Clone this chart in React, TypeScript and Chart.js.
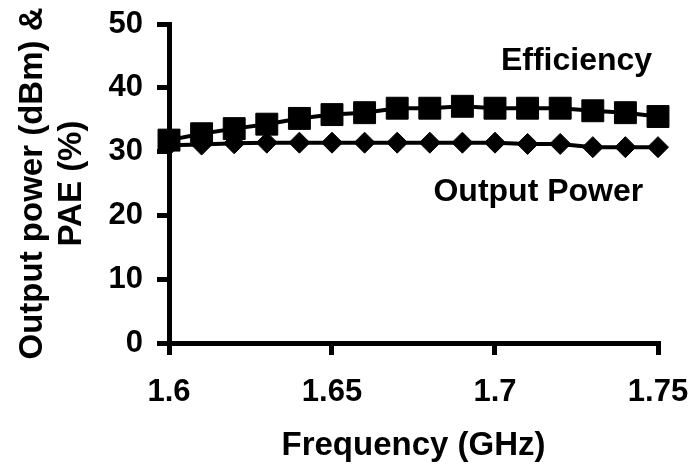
import { useEffect, useRef } from "react";
import { Chart, registerables } from "chart.js";

Chart.register(...registerables);

const FONT = '"Liberation Sans", Arial, sans-serif';

const frequencies = [1.6, 1.61, 1.62, 1.63, 1.64, 1.65, 1.66, 1.67, 1.68, 1.69, 1.7, 1.71, 1.72, 1.73, 1.74, 1.75];
const efficiency = [31.8, 32.8, 33.6, 34.3, 35.2, 35.8, 36.1, 36.8, 36.8, 37.1, 36.8, 36.8, 36.8, 36.4, 36.1, 35.5];
const outputPower = [31.0, 31.1, 31.3, 31.4, 31.4, 31.4, 31.4, 31.4, 31.4, 31.4, 31.4, 31.2, 31.2, 30.7, 30.7, 30.7];

const xTickValues = [1.6, 1.65, 1.7, 1.75];
const yMin = 0;
const yMax = 50;
const yStep = 10;

const xTitle = "Frequency (GHz)";
const yTitle = ["Output power (dBm) &", "PAE (%)"];

const annotationTexts = ["Efficiency", "Output Power"];
const annotationX = [1.725, 1.7133];
const annotationY = [44.1, 23.7];

export default function App() {
  const ref = useRef<HTMLCanvasElement>(null);

  useEffect(() => {
    document.body.style.margin = "0";
    const canvas = ref.current;
    if (!canvas) return;

    const annotationPlugin = {
      id: "textAnnotations",
      afterDatasetsDraw(chart: any) {
        const c = chart.ctx;
        const xs = chart.scales.x;
        const ys = chart.scales.y;
        c.save();
        c.font = `bold 32px ${FONT}`;
        c.fillStyle = "#000";
        c.textAlign = "center";
        c.textBaseline = "middle";
        annotationTexts.forEach((t, i) => {
          c.fillText(t, xs.getPixelForValue(annotationX[i]), ys.getPixelForValue(annotationY[i]));
        });
        c.restore();
      },
    };

    const zeroPad = (scale: any) => {
      scale.paddingTop = 0;
      scale.paddingBottom = 0;
      scale.paddingLeft = 0;
      scale.paddingRight = 0;
    };

    const chart = new Chart(canvas, {
      type: "line",
      data: {
        datasets: [
          {
            label: "Output Power",
            data: frequencies.map((f, i) => ({ x: f, y: outputPower[i] })),
            borderColor: "#000",
            backgroundColor: "#000",
            borderWidth: 4,
            pointStyle: "rectRot",
            pointRadius: 10.5,
            pointBackgroundColor: "#000",
            pointBorderColor: "#000",
            pointBorderWidth: 1,
            clip: false as any,
          },
          {
            label: "Efficiency",
            data: frequencies.map((f, i) => ({ x: f, y: efficiency[i] })),
            borderColor: "#000",
            backgroundColor: "#000",
            borderWidth: 4,
            pointStyle: "rect",
            pointRadius: 15.5,
            pointBackgroundColor: "#000",
            pointBorderColor: "#000",
            pointBorderWidth: 1,
            clip: false as any,
          },
        ],
      },
      options: {
        responsive: false,
        animation: false,
        devicePixelRatio: 1,
        layout: { padding: { left: 0, right: 33, top: 24, bottom: 0 } },
        plugins: {
          legend: { display: false },
          tooltip: { enabled: false },
        },
        scales: {
          x: {
            type: "linear",
            min: xTickValues[0],
            max: xTickValues[xTickValues.length - 1],
            afterBuildTicks: (scale: any) => {
              scale.ticks = xTickValues.map((v) => ({ value: v }));
            },
            afterFit: (scale: any) => {
              scale.height = 123;
              zeroPad(scale);
            },
            border: { display: true, color: "#000", width: 5 },
            grid: {
              display: true,
              drawOnChartArea: false,
              drawTicks: true,
              tickLength: 12,
              color: "#000",
              lineWidth: 5,
            },
            ticks: {
              color: "#000",
              padding: 19,
              maxRotation: 0,
              font: { family: FONT, size: 31, weight: "bold" },
              callback: (v: any) => String(v),
            },
            title: {
              display: true,
              text: xTitle,
              color: "#000",
              padding: { top: 0, bottom: 0 },
              font: { family: FONT, size: 33, weight: "bold", lineHeight: 1.2 },
            },
          },
          y: {
            type: "linear",
            min: yMin,
            max: yMax,
            ticks: {
              stepSize: yStep,
              color: "#000",
              padding: 14,
              font: { family: FONT, size: 31, weight: "bold" },
            },
            afterFit: (scale: any) => {
              scale.width = 169;
              zeroPad(scale);
            },
            border: { display: true, color: "#000", width: 5 },
            grid: {
              display: true,
              drawOnChartArea: false,
              drawTicks: true,
              tickLength: 12,
              color: "#000",
              lineWidth: 5,
            },
            title: {
              display: true,
              text: yTitle,
              color: "#000",
              padding: { top: 13, bottom: 0 },
              font: { family: FONT, size: 33, weight: "bold", lineHeight: 1.2 },
            },
          },
        },
      },
      plugins: [annotationPlugin],
    });

    return () => chart.destroy();
  }, []);

  return (
    <div style={{ position: "absolute", left: 0, top: 0, width: 691, height: 466 }}>
      <canvas ref={ref} width={691} height={466} style={{ display: "block", width: 691, height: 466 }} />
    </div>
  );
}
